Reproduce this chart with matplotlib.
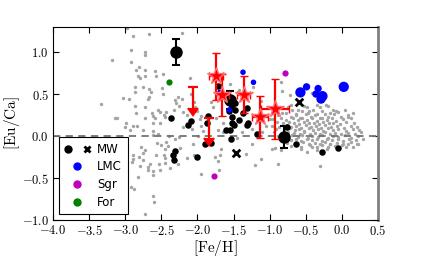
import matplotlib
matplotlib.use("Agg")
import matplotlib.pyplot as plt
from matplotlib.lines import Line2D
from matplotlib.legend_handler import HandlerTuple
from matplotlib.ticker import FuncFormatter, MultipleLocator

plt.rcParams['mathtext.fontset'] = 'cm'

# comparison sample (grey), sparse part
gray_sparse = [
    (-2.975, 1.29), (-2.67, 1.22), (-2.89, 1.19), (-2.21, 1.23), (-2.92, 1.02), (-2.72, 1.0),
    (-2.73, 0.97), (-3.18, 0.90), (-2.92, 0.88), (-2.81, 0.82), (-2.85, 0.79), (-2.72, 0.79),
    (-2.59, 0.77), (-2.57, 0.72), (-2.73, 0.72), (-2.82, 0.71), (-2.79, 0.69), (-2.48, 0.74),
    (-2.10, 0.69), (-2.87, 0.59), (-2.49, 0.57), (-2.75, 0.58), (-2.67, 0.56), (-2.65, 0.53),
    (-2.87, 0.53), (-2.48, 0.50), (-2.09, 0.50), (-2.67, 0.47), (-2.69, 0.44), (-3.03, 0.45),
    (-2.95, 0.44), (-2.31, 0.43), (-2.27, 0.46), (-2.22, 0.44), (-3.33, 0.38), (-2.87, 0.36),
    (-2.26, 0.36), (-2.05, 0.40), (-2.04, 0.35), (-2.30, 0.39), (-1.81, 0.41), (-1.78, 0.35),
    (-2.73, 0.34), (-2.55, 0.31), (-2.52, 0.29), (-2.33, 0.31), (-2.20, 0.29), (-2.43, 0.29),
    (-2.85, 0.28), (-2.63, 0.27), (-2.47, 0.25), (-2.15, 0.25), (-3.12, 0.22), (-2.73, 0.22),
    (-2.61, 0.24), (-2.59, 0.21), (-2.45, 0.23), (-1.95, 0.24), (-1.96, 0.20), (-3.14, 0.21),
    (-2.99, 0.15), (-2.61, 0.16), (-2.52, 0.15), (-3.0, 0.11), (-2.89, 0.12), (-2.84, 0.12),
    (-2.93, 0.07), (-2.75, 0.07), (-2.61, 0.06), (-2.55, 0.03), (-2.62, 0.01), (-2.39, 0.005),
    (-2.25, -0.01), (-1.99, 0.005), (-2.31, -0.03), (-2.43, -0.07), (-2.56, -0.085), (-2.51, -0.11),
    (-2.78, -0.13), (-2.73, -0.17), (-2.75, -0.20), (-2.24, -0.14), (-2.41, -0.12), (-2.45, -0.15),
    (-2.06, -0.10), (-2.89, -0.23), (-2.89, -0.27), (-2.81, -0.25), (-2.57, -0.23), (-2.47, -0.22),
    (-2.45, -0.26), (-2.15, -0.26), (-2.05, -0.23), (-2.75, -0.29), (-2.90, -0.31), (-2.66, -0.33),
    (-2.53, -0.33), (-2.45, -0.32), (-2.27, -0.33), (-2.80, -0.36), (-2.68, -0.37), (-2.38, -0.38),
    (-2.52, -0.40), (-2.68, -0.41), (-2.61, -0.42), (-2.62, -0.46), (-2.82, -0.49), (-1.95, -0.45),
    (-2.92, -0.61), (-2.88, -0.63), (-2.61, -0.71), (-2.60, -0.78), (-2.73, -0.93),
    (-1.76, -0.25), (-1.70, -0.40), (-1.67, -0.15), (-1.69, -0.22), (-1.72, -0.30), (-1.33, -0.21),
    (-1.21, -0.35), (-1.12, -0.27), (-1.24, -0.09), (-0.97, -0.16), (-0.88, -0.33), (-0.30, -0.36),
    (-1.65, 0.05), (-1.92, 0.06), (-1.71, 0.07), (-2.08, 0.085), (-2.20, 0.11), (0.21, -0.10),
    (0.155, -0.13), (0.09, -0.10), (0.0, -0.11), (-0.56, -0.15), (-0.49, -0.19), (-0.42, -0.13),
    (-0.35, -0.17), (-0.21, -0.15), (-0.17, -0.09), (-0.84, -0.17), (-0.93, -0.14),
    (-1.23, 0.59), (-0.84, 0.64), (-0.83, 0.54), (-0.72, 0.49), (-0.70, 0.37), (-0.42, 0.51),
    (-0.20, 0.36), (-0.08, 0.30), (0.155, 0.28), (0.086, 0.23), (-0.49, 0.35), (-0.35, 0.37),
    (-1.55, 0.62), (-1.42, 0.55), (-1.12, 0.42), (-1.05, 0.12), (-1.0, 0.2), (-1.1, 0.05),
    (-1.25, 0.08), (-1.38, 0.05), (-1.45, -0.02), (-1.65, 0.15), (-1.75, 0.22), (-1.95, 0.12),
    (-2.0, 0.3),
]

# comparison sample (grey), dense clump at high metallicity
gray_clump = [
    (-0.74, 0.35), (-0.61, 0.31), (-0.52, 0.36), (-0.45, 0.30), (-0.31, 0.34), (-0.22, 0.37),
    (-0.12, 0.31),
    (-0.83, 0.28), (-0.69, 0.31), (-0.63, 0.26), (-0.55, 0.30), (-0.47, 0.27), (-0.40, 0.31),
    (-0.34, 0.26), (-0.27, 0.30), (-0.17, 0.28), (-0.06, 0.29), (0.04, 0.31),
    (-0.88, 0.25), (-0.77, 0.27), (-0.71, 0.23), (-0.64, 0.25), (-0.58, 0.22), (-0.50, 0.26),
    (-0.43, 0.23), (-0.37, 0.25), (-0.30, 0.22), (-0.24, 0.26), (-0.19, 0.23), (-0.11, 0.26),
    (-0.01, 0.23), (0.09, 0.25),
    (-0.95, 0.20), (-0.85, 0.22), (-0.78, 0.19), (-0.68, 0.21), (-0.61, 0.19), (-0.55, 0.21),
    (-0.48, 0.19), (-0.41, 0.22), (-0.35, 0.18), (-0.28, 0.21), (-0.21, 0.19), (-0.14, 0.22),
    (-0.08, 0.18), (0.02, 0.20), (0.13, 0.21),
    (-0.90, 0.17), (-0.81, 0.15), (-0.73, 0.17), (-0.66, 0.16), (-0.60, 0.14), (-0.53, 0.17),
    (-0.45, 0.15), (-0.39, 0.16), (-0.32, 0.14), (-0.26, 0.17), (-0.18, 0.15), (-0.12, 0.16),
    (-0.03, 0.14), (0.06, 0.17), (0.17, 0.15),
    (-0.97, 0.12), (-0.87, 0.11), (-0.76, 0.13), (-0.70, 0.11), (-0.63, 0.12), (-0.57, 0.10),
    (-0.50, 0.13), (-0.43, 0.11), (-0.36, 0.12), (-0.29, 0.10), (-0.23, 0.13), (-0.15, 0.11),
    (-0.07, 0.12), (0.03, 0.10), (0.12, 0.12), (0.21, 0.11),
    (-0.91, 0.08), (-0.80, 0.07), (-0.72, 0.09), (-0.65, 0.07), (-0.59, 0.08), (-0.52, 0.06),
    (-0.46, 0.09), (-0.40, 0.07), (-0.33, 0.08), (-0.26, 0.06), (-0.20, 0.09), (-0.13, 0.07),
    (-0.05, 0.08), (0.05, 0.06), (0.15, 0.08), (0.24, 0.07),
    (-0.94, 0.05), (-0.82, 0.03), (-0.75, 0.05), (-0.67, 0.04), (-0.58, 0.02), (-0.53, 0.05),
    (-0.44, 0.03), (-0.38, 0.04), (-0.30, 0.02), (-0.24, 0.05), (-0.16, 0.03), (-0.10, 0.04),
    (-0.01, 0.02), (0.08, 0.04), (0.18, 0.03), (0.27, 0.05),
    (-0.88, 0.00), (-0.78, -0.01), (-0.69, 0.01), (-0.61, -0.01), (-0.55, 0.01), (-0.47, -0.02),
    (-0.41, 0.00), (-0.33, -0.01), (-0.27, 0.01), (-0.20, -0.02), (-0.12, 0.00), (-0.05, -0.01),
    (0.04, 0.01), (0.12, -0.02), (0.22, 0.00),
    (-0.84, -0.04), (-0.71, -0.05), (-0.63, -0.03), (-0.56, -0.06), (-0.49, -0.04), (-0.42, -0.05),
    (-0.35, -0.03), (-0.28, -0.06), (-0.21, -0.04), (-0.14, -0.05), (-0.06, -0.03), (0.02, -0.06),
    (0.10, -0.04), (0.19, -0.05), (0.29, -0.04),
    (-0.76, -0.08), (-0.65, -0.09), (-0.54, -0.07), (-0.46, -0.09), (-0.38, -0.08), (-0.31, -0.10),
    (-0.23, -0.07), (-0.16, -0.09), (-0.07, -0.08), (0.02, -0.09), (0.13, -0.07), (0.22, -0.09),
    (-0.70, -0.12), (-0.57, -0.13), (-0.44, -0.11), (-0.35, -0.13), (-0.27, -0.11), (-0.19, -0.13),
    (-0.10, -0.12), (0.06, -0.13),
]

# MW, small symbols
mw_x = [-2.37, -2.09, -2.13, -1.87, -1.85, -1.72, -2.34, -2.31, -2.33, -2.01, -1.895, -1.81,
        -1.54, -1.55, -1.31, -1.18, -0.64, -0.28, -0.06, -0.76, -1.525, -1.57, -1.48, -1.52,
        -1.43, -1.37, -1.295, -1.525, -1.48, -1.32, -1.49, -1.61]
mw_y = [0.21, 0.18, 0.13, 0.15, 0.24, 0.60, -0.22, -0.18, -0.285, -0.255, -0.10, -0.085,
        -0.03, 0.07, 0.13, 0.03, -0.10, -0.19, -0.14, 0.11, 0.37, 0.30, 0.31, 0.23,
        0.19, 0.27, 0.15, 0.15, 0.39, 0.33, 0.13, 0.07]
# MW with error bars
mw_big_x = [-2.30, -0.805, -1.55]
mw_big_y = [1.00, -0.01, 0.43]
mw_big_err = [0.15, 0.13, 0.11]
# MW crosses
mwx_x = [-1.47, -0.60]
mwx_y = [-0.20, 0.40]

lmc_x = [-0.575, -0.49, -0.33, -0.36, -0.27, -0.29, 0.025, -1.37, -1.225, -1.69, -1.56]
lmc_y = [0.52, 0.586, 0.566, 0.50, 0.475, 0.44, 0.586, 0.76, 0.64, 0.52, 0.31]
lmc_s = [55, 28, 28, 28, 55, 45, 55, 16, 16, 16, 16]

sgr_x = [-0.79, -1.775]
sgr_y = [0.75, -0.48]
for_x = [-2.40]
for_y = [0.64]

# new measurements (red stars)
new_x = [-1.74, -1.655, -1.36, -1.13, -0.925]
new_y = [0.71, 0.49, 0.49, 0.225, 0.32]
new_yerr = [0.28, 0.25, 0.22, 0.25, 0.36]
new_xerr = [0.10, 0.09, 0.09, 0.11, 0.19]
# upper limits
lim_x = [-2.06, -1.84]
lim_y = [0.58, 0.21]
lim_len = [0.25, 0.23]

fig = plt.figure(figsize=(4.21, 2.61), dpi=100)
ax = fig.add_axes([0.126, 0.157, 0.772, 0.740])

ax.scatter([p[0] for p in gray_sparse] + [p[0] for p in gray_clump],
           [p[1] for p in gray_sparse] + [p[1] for p in gray_clump],
           s=6, c='#a4a4a4', linewidths=0, zorder=1)

ax.axhline(0, color='0.45', ls='--', lw=1.3, dashes=(4, 3), zorder=2)

ax.scatter(mw_x, mw_y, s=22, c='k', linewidths=0, zorder=4)
ax.errorbar(mw_big_x, mw_big_y, yerr=mw_big_err, fmt='o', color='k', ms=8,
            elinewidth=1.5, capsize=3, capthick=1.5, zorder=4)
ax.scatter(mwx_x, mwx_y, s=30, marker='x', c='k', linewidths=2, zorder=4)
ax.scatter(lmc_x, lmc_y, s=lmc_s, c='b', linewidths=0, zorder=4)
ax.scatter(sgr_x, sgr_y, s=20, c='m', linewidths=0, zorder=4)
ax.scatter(for_x, for_y, s=20, c='g', linewidths=0, zorder=4)

eb = ax.errorbar(new_x, new_y, yerr=new_yerr, xerr=new_xerr, fmt='*', color='r', ms=13,
                 mec='#ff7070', mew=1, elinewidth=1.6, capsize=3, capthick=1.6, zorder=5)
for c in eb[1]:
    c.set_color('#ff7070')
el = ax.errorbar(lim_x, lim_y, yerr=lim_len, uplims=True, fmt='none', ecolor='r',
                 elinewidth=1.6, capsize=3, capthick=1.6, zorder=5)
for c in el[1]:
    c.set_color('r')
    c.set_markersize(7)
el[1][-1].set_color('#ff7070')

ax.set_xlim(-4.0, 0.5)
ax.set_ylim(-1.0, 1.3)
ax.xaxis.set_major_locator(MultipleLocator(0.5))
ax.yaxis.set_major_locator(MultipleLocator(0.5))
fmt = FuncFormatter(lambda v, p: r'$%.1f$' % v)
ax.xaxis.set_major_formatter(fmt)
ax.yaxis.set_major_formatter(fmt)
ax.tick_params(direction='in', top=True, right=True, length=4, width=0.8, labelsize=9, pad=3)
ax.spines['right'].set_color('0.5')
ax.spines['right'].set_linewidth(2)

ax.set_xlabel(r'$\mathrm{[Fe/H]}$', fontsize=11, labelpad=0)
ax.set_ylabel(r'$\mathrm{[Eu/Ca]}$', fontsize=11, labelpad=0)

h_dot = Line2D([], [], marker='o', color='k', ls='', ms=5)
h_x = Line2D([], [], marker='x', color='k', ls='', ms=5, mew=2)
h_lmc = Line2D([], [], marker='o', color='b', ls='', ms=5)
h_sgr = Line2D([], [], marker='o', color='m', ls='', ms=5)
h_for = Line2D([], [], marker='o', color='g', ls='', ms=5)
leg = ax.legend([(h_dot, h_x), h_lmc, h_sgr, h_for], ['MW', 'LMC', 'Sgr', 'For'],
                handler_map={tuple: HandlerTuple(ndivide=None, pad=1.0)},
                loc='lower left', fontsize=8.5, fancybox=False, framealpha=1,
                edgecolor='k', handlelength=2.2, labelspacing=0.4, borderpad=0.45,
                borderaxespad=0.5, handletextpad=0.6)
leg.get_frame().set_linewidth(0.8)

fig.savefig('out.png', dpi=100)
